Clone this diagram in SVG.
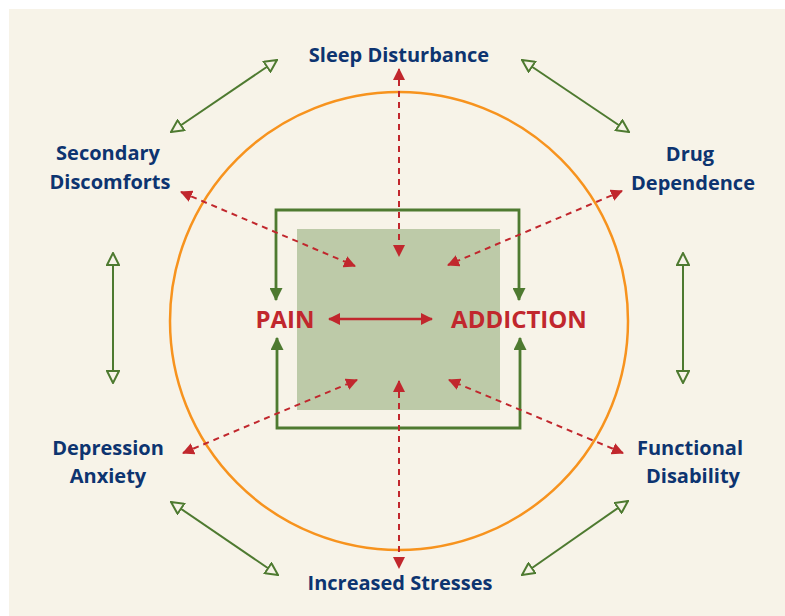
<svg xmlns="http://www.w3.org/2000/svg" width="785" height="616" viewBox="0 0 785 616">
<style>
.lbl{font-family:"Open Sans","Noto Sans",sans-serif;font-weight:700;font-size:20px;fill:#0d3470;text-anchor:middle}
.big{font-family:"Open Sans","Noto Sans",sans-serif;font-weight:700;font-size:24px;fill:#c1272d;text-anchor:middle}
.red{stroke:#c1272d;stroke-width:2;fill:none;stroke-dasharray:6 5}
.redsolid{stroke:#c1272d;stroke-width:2.5;fill:none}
.grn{stroke:#4e7a30;stroke-width:2;fill:none}
.frame{stroke:#4e7a30;stroke-width:2.8;fill:none}
</style>
<defs>
<marker id="ra" viewBox="0 0 12 12" refX="11" refY="6" markerWidth="12" markerHeight="12" markerUnits="userSpaceOnUse" orient="auto-start-reverse"><path d="M0,0 L12,6 L0,12 Z" fill="#c1272d"/></marker>
<marker id="ga" viewBox="0 0 14 14" refX="13" refY="7" markerWidth="14" markerHeight="14" markerUnits="userSpaceOnUse" orient="auto-start-reverse"><path d="M1,1 L13,7 L1,13 Z" fill="#f7f3e8" stroke="#4e7a30" stroke-width="2"/></marker>
<marker id="gf" viewBox="0 0 12 12" refX="11" refY="6" markerWidth="13" markerHeight="13" markerUnits="userSpaceOnUse" orient="auto-start-reverse"><path d="M0,0 L12,6 L0,12 Z" fill="#4e7a30"/></marker>
</defs>
<rect x="9" y="9" width="776" height="607" fill="#f7f3e8"/>
<circle cx="399" cy="321" r="229" fill="none" stroke="#f7931e" stroke-width="2.5"/>
<rect id="core" x="297" y="229" width="203" height="181" fill="#bdcaa8"/>
<g id="connectors">
<path class="frame" d="M276,300 V210 H519 V300" marker-start="url(#gf)" marker-end="url(#gf)"/>
<path class="frame" d="M277,338 V428 H520 V338" marker-start="url(#gf)" marker-end="url(#gf)"/>
<line class="redsolid" x1="329" y1="319" x2="432" y2="319" marker-start="url(#ra)" marker-end="url(#ra)"/>
<line class="red" x1="399" y1="69" x2="399" y2="256" marker-start="url(#ra)" marker-end="url(#ra)"/>
<line class="red" x1="399" y1="381" x2="399" y2="568" marker-start="url(#ra)" marker-end="url(#ra)"/>
<line class="red" x1="181" y1="192" x2="355" y2="266" marker-start="url(#ra)" marker-end="url(#ra)"/>
<line class="red" x1="622" y1="191" x2="448" y2="265" marker-start="url(#ra)" marker-end="url(#ra)"/>
<line class="red" x1="183" y1="453" x2="357" y2="380" marker-start="url(#ra)" marker-end="url(#ra)"/>
<line class="red" x1="623" y1="453" x2="449" y2="380" marker-start="url(#ra)" marker-end="url(#ra)"/>
<line class="grn" x1="171" y1="132" x2="277" y2="60" marker-start="url(#ga)" marker-end="url(#ga)"/>
<line class="grn" x1="522" y1="60" x2="629" y2="132" marker-start="url(#ga)" marker-end="url(#ga)"/>
<line class="grn" x1="113" y1="253" x2="113" y2="383" marker-start="url(#ga)" marker-end="url(#ga)"/>
<line class="grn" x1="683" y1="253" x2="683" y2="383" marker-start="url(#ga)" marker-end="url(#ga)"/>
<line class="grn" x1="171" y1="502" x2="278" y2="575" marker-start="url(#ga)" marker-end="url(#ga)"/>
<line class="grn" x1="628" y1="501" x2="522" y2="575" marker-start="url(#ga)" marker-end="url(#ga)"/>
</g>
<g id="pain"><text class="big" x="285" y="328">PAIN</text></g>
<g id="addiction"><text class="big" x="519" y="328">ADDICTION</text></g>
<g id="sleep"><text class="lbl" x="399" y="62">Sleep Disturbance</text></g>
<g id="secondary"><text class="lbl" x="108" y="160">Secondary</text><text class="lbl" x="110" y="189">Discomforts</text></g>
<g id="drug"><text class="lbl" x="690" y="161">Drug</text><text class="lbl" x="693" y="190">Dependence</text></g>
<g id="depression"><text class="lbl" x="108" y="455">Depression</text><text class="lbl" x="108" y="483">Anxiety</text></g>
<g id="functional"><text class="lbl" x="690" y="455">Functional</text><text class="lbl" x="693" y="483">Disability</text></g>
<g id="stresses"><text class="lbl" x="400" y="590">Increased Stresses</text></g>
</svg>
